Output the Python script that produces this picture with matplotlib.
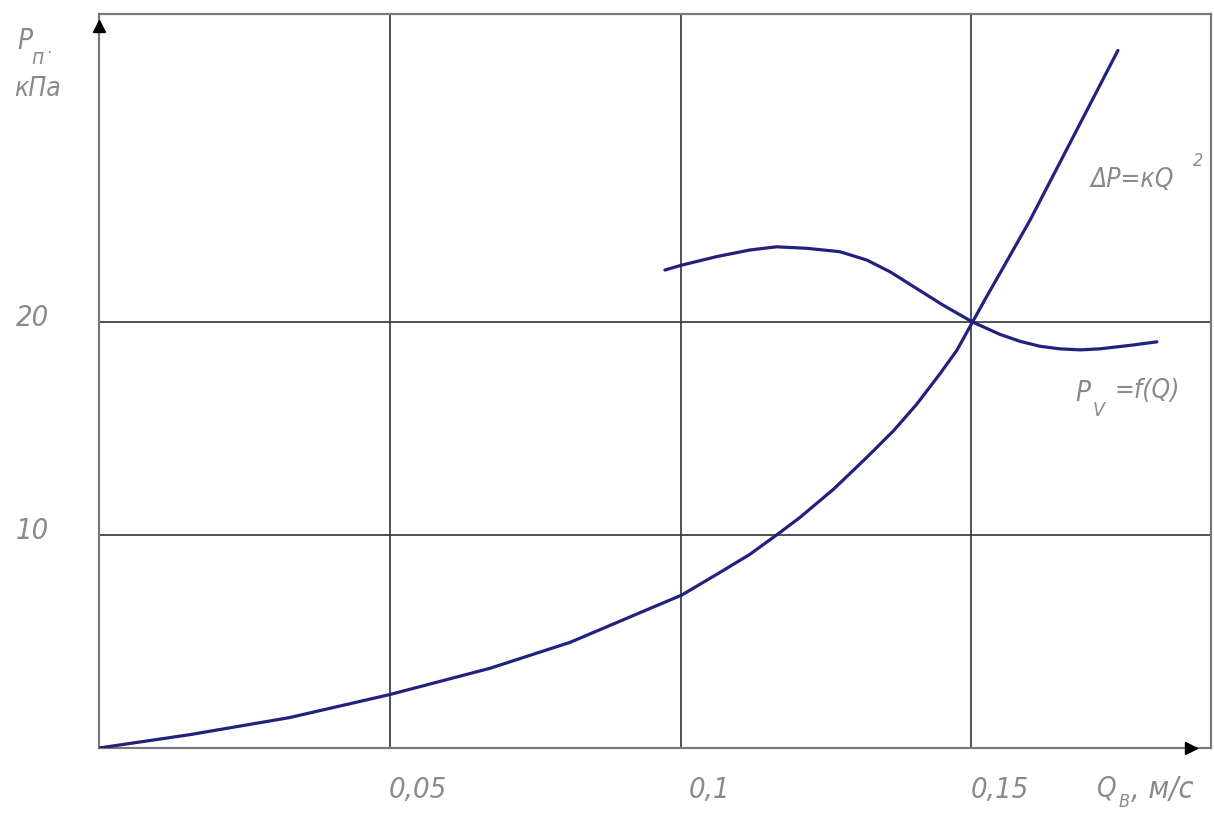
import matplotlib
matplotlib.use('Agg')
import matplotlib.pyplot as plt

# hydraulic losses curve dP = kQ^2
q_loss = [0, 0.0157, 0.0328, 0.05, 0.0672, 0.081, 0.0936, 0.1002, 0.1062,
          0.1119, 0.1165, 0.1205, 0.1263, 0.132, 0.1366, 0.1406, 0.1446,
          0.1475, 0.1502, 0.1526, 0.1549, 0.1601, 0.1635, 0.1752]
p_loss = [0, 0.63, 1.43, 2.51, 3.74, 4.96, 6.42, 7.18, 8.15,
          9.09, 10.0, 10.82, 12.15, 13.64, 14.89, 16.14, 17.57,
          18.67, 20.0, 21.18, 22.28, 24.79, 26.58, 32.75]

# pump pressure curve Pv = f(Q)
q_pump = [0.0973, 0.1002, 0.1062, 0.1119, 0.1165, 0.1217, 0.1274, 0.132,
          0.136, 0.1406, 0.1452, 0.1502, 0.1549, 0.1584, 0.1618, 0.1652,
          0.1687, 0.1721, 0.1778, 0.1819]
p_pump = [22.44, 22.67, 23.07, 23.38, 23.53, 23.46, 23.3, 22.91,
          22.36, 21.57, 20.78, 20.0, 19.42, 19.09, 18.86, 18.74,
          18.69, 18.74, 18.92, 19.07]

x_grid = [0.05, 0.1, 0.15]
x_labels = ['0,05', '0,1', '0,15']
y_grid = [10, 20]
y_labels = ['10', '20']

TXT = '#8a8a8a'
CURVE = '#22227e'

fig = plt.figure(figsize=(12.14, 8.16), dpi=100)
ax = fig.add_axes([99 / 1214, 68 / 816, 1112 / 1214, 734 / 816])
ax.set_xlim(0, 0.1912)
ax.set_ylim(0, 34.46)

for s in ax.spines.values():
    s.set_color('#7a7a7a')
    s.set_linewidth(1.6)
ax.set_xticks([])
ax.set_yticks([])

for xv in x_grid:
    ax.axvline(xv, color='#333333', lw=1.2, zorder=1)
for yv in y_grid:
    ax.axhline(yv, color='#333333', lw=1.2, zorder=1)

ax.plot(q_loss, p_loss, color=CURVE, lw=2.3, zorder=3, solid_capstyle='round', solid_joinstyle='round')
ax.plot(q_pump, p_pump, color=CURVE, lw=2.3, zorder=3, solid_capstyle='round', solid_joinstyle='round')

# axis arrows
ax.plot([0], [0.983], marker='^', ms=9, color='black', transform=ax.transAxes, clip_on=False, zorder=5)
ax.plot([0.982], [0], marker='>', ms=9, color='black', transform=ax.transAxes, clip_on=False, zorder=5)

tkw = dict(family='DejaVu Sans', stretch='condensed', style='italic', color=TXT)

# tick labels
for xv, lab in zip(x_grid, x_labels):
    ax.text(xv + 0.0049, -1.97, lab, ha='center', va='center', fontsize=21, **tkw)
for yv, lab in zip(y_grid, y_labels):
    ax.text(-0.0115, yv + 0.2, lab, ha='center', va='center', fontsize=21, **tkw)

# axis titles
fig.text(25 / 1214, 1 - 41 / 816, 'P', ha='center', va='center', fontsize=20, **tkw)
fig.text(37 / 1214, 1 - 58 / 816, 'п', ha='center', va='center', fontsize=15, **tkw)
fig.text(49 / 1214, 1 - 53 / 816, '·', ha='center', va='center', fontsize=12, **tkw)
fig.text(37 / 1214, 1 - 89 / 816, 'кПа', ha='center', va='center', fontsize=19, **tkw)

fig.text(1107 / 1214, 1 - 788 / 816, 'Q', ha='center', va='center', fontsize=20, **tkw)
fig.text(1124 / 1214, 1 - 802 / 816, 'В', ha='center', va='center', fontsize=13, **tkw)
fig.text(1131 / 1214, 1 - 790 / 816, ', м/с', ha='left', va='center', fontsize=22, **tkw)

# curve labels
fig.text(1090 / 1214, 1 - 180 / 816, 'ΔP=кQ', ha='left', va='center', fontsize=19, **tkw)
fig.text(1198 / 1214, 1 - 161 / 816, '2', ha='center', va='center', fontsize=13, **tkw)

fig.text(1075 / 1214, 1 - 393 / 816, 'P', ha='left', va='center', fontsize=20, **tkw)
fig.text(1099 / 1214, 1 - 410 / 816, 'V', ha='center', va='center', fontsize=14, **tkw)
fig.text(1114 / 1214, 1 - 391 / 816, '=f(Q)', ha='left', va='center', fontsize=19, **tkw)

fig.savefig('out.png', dpi=100, facecolor='white')
